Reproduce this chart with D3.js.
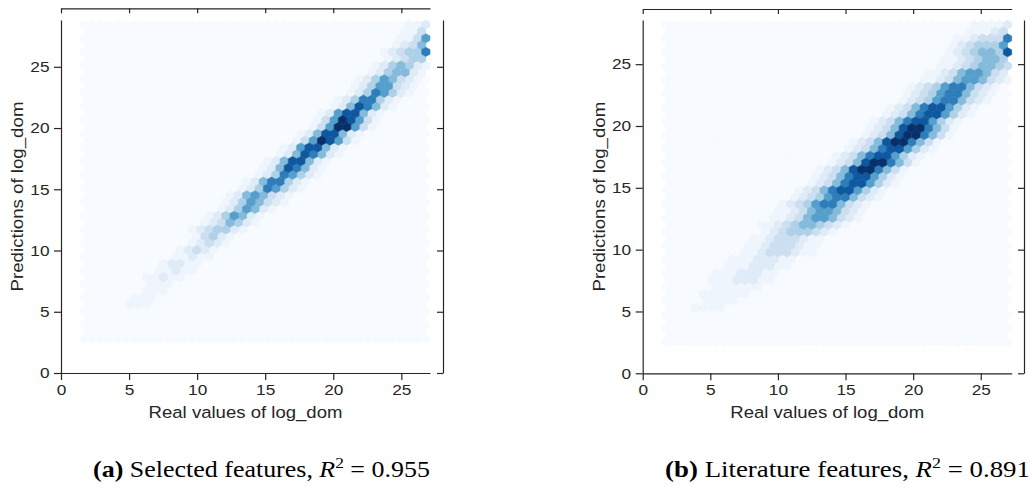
<!DOCTYPE html>
<html>
<head>
<meta charset="utf-8">
<script src="https://cdn.jsdelivr.net/npm/d3@7"></script>
<style>
  html, body { margin: 0; padding: 0; background: #fff; }
  svg { display: block; }
</style>
</head>
<body>
<svg id="chart" width="1032" height="489"></svg>
<script>
const xTicks = [0, 5, 10, 15, 20, 25];
const yTicks = [0, 5, 10, 15, 20, 25];
const xLabel = "Real values of log_dom";
const yLabel = "Predictions of log_dom";
const gridSize = 41;

// data extent of each hexbin: [xmin, xmax, ymin, ymax]
const extentA = [1.7, 26.8, 2.8, 28.45];
const extentB = [1.71, 26.98, 2.52, 28.2];

// non-empty hexes: [row (0 = bottom), first column, shade 0-9 per column]
const rowsA = [
  [5, 5, "111"], [6, 6, "111"], [7, 7, "111"], [8, 8, "111"],
  [9, 7, "11211"], [10, 9, "11211"], [11, 9, "12211"], [12, 11, "11211"],
  [13, 11, "12321"], [14, 13, "12321"], [15, 13, "13421"],
  [16, 13, "1234421"], [17, 14, "1235421"], [18, 15, "1246521"], [19, 16, "1246521"],
  [20, 17, "12465321"], [21, 17, "12565321"], [22, 19, "12476421"], [23, 19, "12577421"],
  [24, 21, "12476421"], [25, 21, "12587521"], [26, 22, "12588521"], [27, 23, "12587521"],
  [28, 24, "12688521"], [29, 25, "13698631"], [30, 26, "12588521"], [31, 27, "13699631"],
  [32, 28, "13698631"], [33, 28, "12688521"], [34, 30, "12587521"], [35, 30, "12477421"],
  [36, 32, "12476421"], [37, 32, "12466321"], [38, 33, "12465321"],
  [39, 34, "1245521"], [40, 35, "1245421"], [41, 36, "12344"],
  [42, 36, "123447"], [43, 37, "1235"], [44, 38, "1136"], [45, 38, "113"], [46, 39, "112"]
];

const rowsB = [
  [5, 0, "00011110000"], [6, 2, "00011110000"], [7, 2, "00111111000"], [8, 4, "00111111000"],
  [9, 4, "01112221100"], [10, 5, "01112221100"], [11, 6, "01112221100"], [12, 7, "01112221100"],
  [13, 8, "01123332110"], [14, 9, "01123332110"], [15, 9, "01123332110"],
  [16, 11, "01234443210"], [17, 11, "11234554321"],
  [18, 13, "11235665321"], [19, 13, "11235665321"],
  [20, 14, "12346775321"], [21, 15, "12346775321"],
  [22, 16, "12357886421"], [23, 17, "12357886421"], [24, 18, "12357886421"],
  [25, 18, "12358997531"], [26, 20, "12358997531"], [27, 20, "12357886421"],
  [28, 22, "12357886421"], [29, 22, "12358997531"], [30, 24, "12358997531"],
  [31, 24, "12358997531"], [32, 25, "12357886421"], [33, 26, "12357886421"],
  [34, 27, "12357886421"], [35, 28, "12346775321"], [36, 29, "12346775321"],
  [37, 29, "12346775321"], [38, 31, "11235665321"], [39, 31, "11235665321"],
  [40, 33, "11234554321"], [41, 33, "11234554321"],
  [42, 34, "12345548"], [43, 34, "1234446"], [44, 35, "1123337"],
  [45, 36, "11123"], [46, 37, "11112"]
];

const captionA = ["(a)", " Selected features, ", "R", "2", " = 0.955"];
const captionB = ["(b)", " Literature features, ", "R", "2", " = 0.891"];

const svg = d3.select("#chart");
const ink = "#262626";
const sans = "'Liberation Sans', Arial, sans-serif";
const shade = d3.scalePow().exponent(1.4).domain([0, 9]).range([0, 1]);

function drawPanel(p) {
  const [x0, x1, y0, y1] = p.extent;
  const ny = Math.floor(gridSize / Math.sqrt(3));
  const sx = (x1 - x0) / gridSize;
  const sy = (y1 - y0) / ny;

  const x = d3.scaleLinear().domain([0, x1 + sx / 2]).range([p.left, p.right]);
  const y = d3.scaleLinear().domain([0, y1 + sy / 3]).range([p.bottom, p.top]);

  const levels = new Map();
  p.rows.forEach(([r, c, s]) => {
    s.split("").forEach((ch, k) => levels.set(r + "," + (c + k), +ch));
  });

  const cells = [];
  for (let r = 0; r <= 2 * ny; r++) {
    const odd = r % 2 === 1;
    const n = odd ? gridSize : gridSize + 1;
    for (let i = 0; i < n; i++) {
      cells.push({
        cx: x0 + (i + (odd ? 0.5 : 0)) * sx,
        cy: y0 + r * sy / 2,
        level: levels.get(r + "," + i) || 0
      });
    }
  }
  cells.sort((a, b) => a.level - b.level);

  const hex = [[0.5, -0.5], [0.5, 0.5], [0, 1], [-0.5, 0.5], [-0.5, -0.5], [0, -1]];

  svg.append("g")
    .selectAll("path")
    .data(cells)
    .enter()
    .append("path")
    .attr("d", d => "M" + hex.map(([a, b]) => x(d.cx + a * sx) + "," + y(d.cy + b * sy / 3)).join("L") + "Z")
    .attr("fill", d => d3.interpolateBlues(shade(d.level)))
    .attr("stroke", d => d3.interpolateBlues(shade(d.level)))
    .attr("stroke-width", 0.6);

  // bottom axis
  const bottom = svg.append("g")
    .attr("transform", `translate(0,${p.bottom})`)
    .call(d3.axisBottom(x).tickValues(xTicks).tickSize(7).tickPadding(4).tickSizeOuter(0));

  // left axis
  const left = svg.append("g")
    .attr("transform", `translate(${p.left},0)`)
    .call(d3.axisLeft(y).tickValues(yTicks).tickSize(7).tickPadding(3).tickSizeOuter(0));

  // marginal spines (top and right)
  const top = svg.append("g")
    .attr("transform", `translate(0,${p.topSpine})`)
    .call(d3.axisBottom(x).tickValues(xTicks).tickSize(5).tickFormat("").tickSizeOuter(0));

  const right = svg.append("g")
    .attr("transform", `translate(${p.rightSpine},0)`)
    .call(d3.axisLeft(y).tickValues(yTicks).tickSize(6).tickFormat("").tickSizeOuter(0));

  [bottom, left, top, right].forEach(g => {
    g.selectAll(".domain, line").attr("stroke", ink).attr("stroke-width", 1.2);
    g.selectAll("text")
      .attr("fill", ink)
      .style("font-family", sans)
      .style("font-size", "15px")
      .attr("transform", "scale(1.15,1)");
  });

  // axis titles
  const xl = svg.append("g");
  const xt = xl.append("text")
    .attr("text-anchor", "middle")
    .attr("fill", ink)
    .style("font-family", sans)
    .style("font-size", "16.5px")
    .text(xLabel);
  const kx = 194 / xt.node().getBBox().width;
  xl.attr("transform", `translate(${(p.left + p.right) / 2},418) scale(${kx},1)`);

  const yl = svg.append("g");
  const yt = yl.append("text")
    .attr("text-anchor", "middle")
    .attr("fill", ink)
    .style("font-family", sans)
    .style("font-size", "16.5px")
    .text(yLabel);
  const ky = 190 / yt.node().getBBox().width;
  yl.attr("transform", `translate(${p.left - 38},${(p.top + p.bottom) / 2}) rotate(-90) scale(${ky},1)`);

  // caption
  const cap = svg.append("g");
  const ct = cap.append("text")
    .attr("text-anchor", "middle")
    .attr("fill", "#000")
    .style("font-family", "'Liberation Serif', 'Times New Roman', serif")
    .style("font-size", "22.5px");
  ct.append("tspan").attr("font-weight", "bold").text(p.caption[0]);
  ct.append("tspan").text(p.caption[1]);
  ct.append("tspan").attr("font-style", "italic").text(p.caption[2]);
  ct.append("tspan").attr("dy", -9).style("font-size", "15px").text(p.caption[3]);
  ct.append("tspan").attr("dy", 9).text(p.caption[4]);
  const kc = p.captionWidth / ct.node().getBBox().width;
  cap.attr("transform", `translate(${p.captionX},476.5) scale(${kc},1)`);
}

drawPanel({
  extent: extentA, rows: rowsA,
  left: 61, right: 430, top: 20, bottom: 373,
  topSpine: 8.3, rightSpine: 443,
  caption: captionA, captionX: 261.5, captionWidth: 337
});

drawPanel({
  extent: extentB, rows: rowsB,
  left: 642.7, right: 1011.7, top: 20, bottom: 373.3,
  topSpine: 9, rightSpine: 1024,
  caption: captionB, captionX: 847.5, captionWidth: 365
});
</script>
</body>
</html>
